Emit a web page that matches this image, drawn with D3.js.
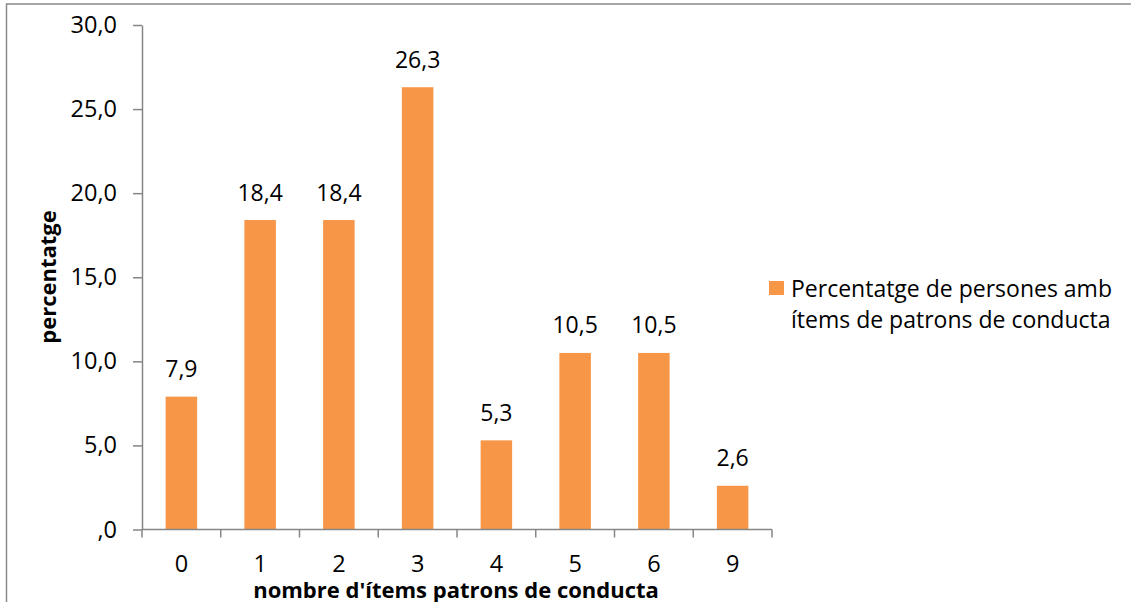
<!DOCTYPE html>
<html>
<head>
<meta charset="utf-8">
<script src="https://cdn.jsdelivr.net/npm/d3@7"></script>
<style>
  html, body { margin: 0; padding: 0; background: #ffffff; }
  svg { display: block; }
  text { font-family: "Open Sans", "Noto Sans", sans-serif; fill: #000; }
</style>
</head>
<body>
<svg id="chart" width="1131" height="602"></svg>
<script>
// Number of behaviour-pattern items and share of people (%)
const categories = ["0", "1", "2", "3", "4", "5", "6", "9"];
const values = [7.9, 18.4, 18.4, 26.3, 5.3, 10.5, 10.5, 2.6];
const yTicks = [0, 5, 10, 15, 20, 25, 30];
const seriesName = ["Percentatge de persones amb", "ítems de patrons de conducta"];
const xTitle = "nombre d'ítems patrons de conducta";
const yTitle = "percentatge";

const svg = d3.select("#chart");
const barColor = "#F79646";
const axisColor = "#868686";

// Outer chart frame
svg.append("rect")
  .attr("x", 6.5).attr("y", 4)
  .attr("width", 1140).attr("height", 620)
  .attr("fill", "none")
  .attr("stroke", "#8a8a8a")
  .attr("stroke-width", 1.5);

const plot = { left: 142, right: 772, top: 25, bottom: 529.5 };

const x = d3.scaleBand()
  .domain(categories)
  .range([plot.left, plot.right])
  .paddingInner(0.6)
  .paddingOuter(0.3);

const y = d3.scaleLinear()
  .domain([0, 30])
  .range([plot.bottom, plot.top]);

// Comma decimal, no leading zero for values below one ("#.0")
const fmt = d => {
  const s = d3.format(".1f")(d).replace(".", ",");
  return s.startsWith("0,") ? s.slice(1) : s;
};

// Bars
svg.append("g")
  .selectAll("rect")
  .data(values)
  .join("rect")
  .attr("x", (d, i) => x(categories[i]))
  .attr("y", d => y(d))
  .attr("width", x.bandwidth())
  .attr("height", d => y(0) - y(d))
  .attr("fill", barColor);

// Y axis
const yAxis = svg.append("g")
  .attr("transform", `translate(${plot.left},0)`)
  .call(d3.axisLeft(y).tickValues(yTicks).tickFormat(fmt).tickSize(9).tickSizeOuter(0).tickPadding(16));
yAxis.select(".domain").attr("stroke", axisColor).attr("stroke-width", 1.5);
yAxis.selectAll(".tick line").attr("stroke", axisColor).attr("stroke-width", 1.5);
yAxis.selectAll(".tick text")
  .attr("font-size", 23.5)
  .attr("font-family", "'Open Sans', sans-serif")
  .attr("fill", "#000");

// X axis: ticks sit on the band boundaries
const xAxisG = svg.append("g")
  .attr("transform", `translate(0,${plot.bottom})`);
xAxisG.append("line")
  .attr("x1", plot.left).attr("x2", plot.right)
  .attr("y1", 0).attr("y2", 0)
  .attr("stroke", axisColor).attr("stroke-width", 1.5);
const boundaries = d3.range(categories.length + 1).map(i => plot.left + i * (plot.right - plot.left) / categories.length);
xAxisG.selectAll("line.tick")
  .data(boundaries)
  .join("line")
  .attr("class", "tick")
  .attr("x1", d => d).attr("x2", d => d)
  .attr("y1", 0).attr("y2", 8)
  .attr("stroke", axisColor).attr("stroke-width", 1.5);
xAxisG.selectAll("text")
  .data(categories)
  .join("text")
  .attr("x", d => x(d) + x.bandwidth() / 2)
  .attr("y", 42.5)
  .attr("text-anchor", "middle")
  .attr("font-size", 23.5)
  .text(d => d);

// Value labels
svg.append("g")
  .selectAll("text")
  .data(values)
  .join("text")
  .attr("x", (d, i) => x(categories[i]) + x.bandwidth() / 2)
  .attr("y", d => y(d) - 19.5)
  .attr("text-anchor", "middle")
  .attr("font-size", 23)
  .text(d => fmt(d));

// Axis titles
svg.append("text")
  .attr("x", 456).attr("y", 597.5)
  .attr("text-anchor", "middle")
  .attr("font-size", 22)
  .attr("font-weight", "bold")
  .text(xTitle);

svg.append("text")
  .attr("transform", "translate(56,277) rotate(-90)")
  .attr("text-anchor", "middle")
  .attr("font-size", 22)
  .attr("font-weight", "bold")
  .text(yTitle);

// Legend
const legend = svg.append("g").attr("transform", "translate(769,281)");
legend.append("rect")
  .attr("x", 0).attr("y", 0)
  .attr("width", 15).attr("height", 14)
  .attr("fill", barColor);
legend.selectAll("text")
  .data(seriesName)
  .join("text")
  .attr("x", 22)
  .attr("y", (d, i) => 15.5 + i * 31.5)
  .attr("font-size", 23)
  .text(d => d);
</script>
</body>
</html>
